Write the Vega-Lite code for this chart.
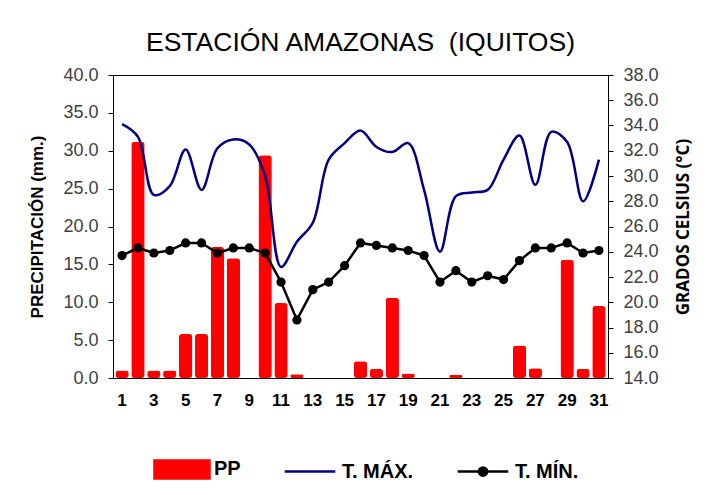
{
  "$schema": "https://vega.github.io/schema/vega-lite/v6.json",
  "width": 495,
  "height": 303,
  "autosize": {"type": "none"},
  "padding": {"left": 113, "top": 75, "right": 100, "bottom": 117},
  "background": "white",
  "title": {"text": "ESTACIÓN AMAZONAS \u00a0(IQUITOS)", "font": "Liberation Sans", "fontSize": 26.5, "fontWeight": "normal", "color": "#000000", "anchor": "middle", "offset": 10},
  "config": {
    "view": {"stroke": "#000000", "strokeWidth": 1},
    "axis": {"grid": false, "domainColor": "#000000", "tickColor": "#000000", "labelFont": "Liberation Sans", "labelColor": "#404040", "titleColor": "#000000"}
  },
  "data": {"values": [
    {"day": 1, "PP": 1.0, "TMAX": 34.1, "TMIN": 23.7},
    {"day": 2, "PP": 31.2, "TMAX": 33.1, "TMIN": 24.3},
    {"day": 3, "PP": 1.0, "TMAX": 28.5, "TMIN": 23.9},
    {"day": 4, "PP": 1.0, "TMAX": 29.2, "TMIN": 24.1},
    {"day": 5, "PP": 5.8, "TMAX": 32.1, "TMIN": 24.7},
    {"day": 6, "PP": 5.8, "TMAX": 28.9, "TMIN": 24.7},
    {"day": 7, "PP": 17.3, "TMAX": 32.2, "TMIN": 23.9},
    {"day": 8, "PP": 15.8, "TMAX": 32.9, "TMIN": 24.3},
    {"day": 9, "PP": 0, "TMAX": 32.5, "TMIN": 24.3},
    {"day": 10, "PP": 29.4, "TMAX": 30.0, "TMIN": 23.9},
    {"day": 11, "PP": 9.9, "TMAX": 22.8, "TMIN": 21.6},
    {"day": 12, "PP": 0.5, "TMAX": 24.8, "TMIN": 18.6},
    {"day": 13, "PP": 0, "TMAX": 26.3, "TMIN": 21.0},
    {"day": 14, "PP": 0, "TMAX": 31.3, "TMIN": 21.6},
    {"day": 15, "PP": 0, "TMAX": 32.6, "TMIN": 22.9},
    {"day": 16, "PP": 2.2, "TMAX": 33.6, "TMIN": 24.7},
    {"day": 17, "PP": 1.2, "TMAX": 32.3, "TMIN": 24.5},
    {"day": 18, "PP": 10.6, "TMAX": 31.9, "TMIN": 24.3},
    {"day": 19, "PP": 0.6, "TMAX": 32.6, "TMIN": 24.1},
    {"day": 20, "PP": 0, "TMAX": 28.9, "TMIN": 23.7},
    {"day": 21, "PP": 0, "TMAX": 24.0, "TMIN": 21.6},
    {"day": 22, "PP": 0.4, "TMAX": 28.4, "TMIN": 22.5},
    {"day": 23, "PP": 0, "TMAX": 28.7, "TMIN": 21.6},
    {"day": 24, "PP": 0, "TMAX": 28.9, "TMIN": 22.1},
    {"day": 25, "PP": 0, "TMAX": 31.3, "TMIN": 21.8},
    {"day": 26, "PP": 4.3, "TMAX": 33.2, "TMIN": 23.3},
    {"day": 27, "PP": 1.3, "TMAX": 29.3, "TMIN": 24.3},
    {"day": 28, "PP": 0, "TMAX": 33.5, "TMIN": 24.3},
    {"day": 29, "PP": 15.6, "TMAX": 32.7, "TMIN": 24.7},
    {"day": 30, "PP": 1.2, "TMAX": 28.0, "TMIN": 23.9},
    {"day": 31, "PP": 9.5, "TMAX": 31.3, "TMIN": 24.1}
  ]},
  "encoding": {
    "x": {
      "field": "day", "type": "ordinal",
      "scale": {"paddingInner": 0.16, "paddingOuter": 0.15},
      "axis": {"title": null, "labelAngle": 0, "ticks": false, "labelFont": "Liberation Sans", "labelFontWeight": "bold", "labelFontSize": 17, "labelColor": "#000000", "labelPadding": 14, "labelExpr": "datum.value % 2 == 1 ? datum.label : ''"}
    }
  },
  "layer": [
    {
      "mark": {"type": "bar", "cornerRadius": 3},
      "encoding": {
        "y": {"field": "PP", "type": "quantitative", "scale": {"domain": [0, 40], "nice": false},
          "axis": {"title": "PRECIPITACIÓN (mm.)", "titleFont": "Liberation Sans", "titleFontSize": 17, "titleFontWeight": "bold", "titlePadding": 16, "values": [0, 5, 10, 15, 20, 25, 30, 35, 40], "format": ".1f", "labelFontSize": 18, "tickSize": 5, "labelPadding": 10}},
        "color": {
          "datum": "PP", "type": "nominal",
          "scale": {"domain": ["PP", "T. MÁX.", "T. MÍN."], "range": ["#FF0000", "#000080", "#000000"]},
          "legend": {
            "orient": "none", "legendX": 40, "legendY": 365, "direction": "horizontal", "title": null, "padding": 0,
            "symbolSize": 3025, "symbolStrokeWidth": 2.5,
            "labelFont": "Liberation Sans", "labelFontSize": 20, "labelFontWeight": "bold", "labelColor": "#000000",
            "labelOffset": 3, "columnPadding": 38,
            "encode": {"symbols": {"update": {
              "shape": {"signal": "datum.value === 'PP' ? 'M-1,-0.33H1V0.33H-1Z' : datum.value === 'T. MÁX.' ? 'M-0.92,0H0.92' : 'M-0.92,0H0.92M-0.15,0A0.15,0.15 0 1,0 0.15,0A0.15,0.15 0 1,0 -0.15,0'"},
              "fill": {"signal": "datum.value === 'PP' ? '#FF0000' : datum.value === 'T. MÍN.' ? '#000000' : 'transparent'"},
              "stroke": {"signal": "datum.value === 'PP' ? 'transparent' : datum.value === 'T. MÍN.' ? '#000000' : '#000080'"},
              "opacity": {"value": 1}
            }}}
          }
        }
      }
    },
    {
      "layer": [
        {
          "mark": {"type": "line", "interpolate": "catmull-rom", "strokeWidth": 2.5},
          "encoding": {
            "y": {"field": "TMAX", "type": "quantitative", "scale": {"domain": [14, 38], "nice": false},
              "axis": {"orient": "right", "title": "GRADOS CELSIUS (°C)", "titleFont": "Open Sans", "titleFontSize": 17, "titleFontWeight": "bold", "titleAngle": 270, "titleBaseline": "top", "titlePadding": 17, "values": [14, 16, 18, 20, 22, 24, 26, 28, 30, 32, 34, 36, 38], "format": ".1f", "labelFontSize": 18, "tickSize": 5, "labelPadding": 10}},
            "color": {"datum": "T. MÁX.", "type": "nominal"}
          }
        },
        {
          "mark": {"type": "line", "strokeWidth": 2.5, "point": {"filled": true, "size": 85, "opacity": 1}},
          "encoding": {
            "y": {"field": "TMIN", "type": "quantitative", "scale": {"domain": [14, 38], "nice": false},
              "axis": {"orient": "right", "title": "GRADOS CELSIUS (°C)", "titleFont": "Open Sans", "titleFontSize": 17, "titleFontWeight": "bold", "titleAngle": 270, "titleBaseline": "top", "titlePadding": 17, "values": [14, 16, 18, 20, 22, 24, 26, 28, 30, 32, 34, 36, 38], "format": ".1f", "labelFontSize": 18, "tickSize": 5, "labelPadding": 10}},
            "color": {"datum": "T. MÍN.", "type": "nominal"}
          }
        }
      ]
    }
  ],
  "resolve": {"scale": {"y": "independent"}}
}
